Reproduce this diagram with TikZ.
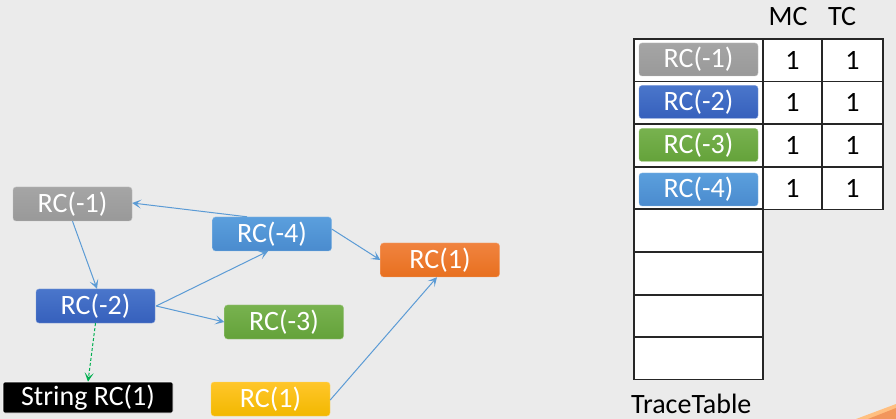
\documentclass[tikz,border=0pt]{standalone}
\usepackage{fontspec}
\setmainfont{Carlito}
\usetikzlibrary{arrows.meta}
\definecolor{bg}{HTML}{EBEBEB}
\definecolor{cgray}{HTML}{A5A5A5}
\definecolor{cgrayd}{HTML}{999999}
\definecolor{cblue}{HTML}{4A76CB}
\definecolor{cblued}{HTML}{3660BC}
\definecolor{clblue}{HTML}{5B9FDD}
\definecolor{clblued}{HTML}{4A8BCE}
\definecolor{corange}{HTML}{F0833F}
\definecolor{coranged}{HTML}{E8701F}
\definecolor{cgreen}{HTML}{78B24F}
\definecolor{cgreend}{HTML}{64A23A}
\definecolor{cyellow}{HTML}{FFC62A}
\definecolor{cyellowd}{HTML}{F2B800}
\definecolor{carrow}{HTML}{5B9BD5}
\definecolor{cdash}{HTML}{00B050}
\begin{document}
\begin{tikzpicture}[x=1pt,y=-1pt,
  rc/.style={rounded corners=3pt, minimum width=119pt, minimum height=34pt, inner sep=0pt,
    text=white, font=\fontsize{28}{28}\selectfont},
  gray/.style={rc, top color=cgray, bottom color=cgrayd, draw=cgray!70!white},
  blue/.style={rc, top color=cblue, bottom color=cblued, draw=cblue!70!white},
  lblue/.style={rc, top color=clblue, bottom color=clblued, draw=clblue!70!white},
  orange/.style={rc, top color=corange, bottom color=coranged, draw=corange!70!white},
  green/.style={rc, top color=cgreen, bottom color=cgreend, draw=cgreen!70!white},
  yellow/.style={rc, top color=cyellow, bottom color=cyellowd, draw=cyellow!70!white},
  conn/.style={draw=carrow, line width=1pt, -{Stealth[length=9pt,width=9pt,inset=4.5pt]}},
  cell/.style={draw=black!85, line width=1.2pt, fill=white},
  txt/.style={font=\fontsize{28}{28}\selectfont, text=black, inner sep=0pt},
]
\useasboundingbox (0,0) rectangle (896,419);
\fill[bg] (0,0) rectangle (896,419);
\fill[orange!50!white] (856,419) -- (896,404) -- (896,419) -- cycle;
\fill[corange!85!white] (868,419) -- (896,408) -- (896,419) -- cycle;

% graph nodes
\node[gray]   (n1) at (72.5,204) {RC(-1)};
\node[lblue]  (n4) at (272,234)  {RC(-4)};
\node[orange] (o1) at (440,260)  {RC(1)};
\node[blue]   (n2) at (95.5,306) {RC(-2)};
\node[green]  (n3) at (284,322)  {RC(-3)};
\node[rc, fill=black, draw=white, line width=0.6pt, minimum width=170pt, minimum height=31pt, rounded corners=2pt] (s1) at (88,397.5) {String RC(1)};
\node[yellow] (y1) at (270.5,399) {RC(1)};

\draw[conn] ([xshift=-25pt]n4.north) -- ([yshift=1pt]n1.east);
\draw[conn] ([xshift=0pt]n1.south) -- ([xshift=1.5pt]n2.north);
\draw[conn] ([xshift=1pt]n2.east) -- ([xshift=-4pt]n4.south);
\draw[conn] ([xshift=1pt]n2.east) -- (n3.west);
\draw[conn] ([yshift=5pt]n4.east) -- (o1.west);
\draw[conn] ([yshift=-1pt]y1.east) -- ([xshift=-3pt]o1.south);
\draw[draw=cdash, line width=1pt, dashed, dash pattern=on 3pt off 2pt, -{Stealth[length=9pt,width=9pt,inset=4.5pt]}] (n2.south) -- ([xshift=0pt]s1.north);

% trace table
\foreach \r [count=\i] in {39,81.5,124,167,209,252,295,337}{
  \pgfmathsetmacro{\rb}{\r+42.6}
  \draw[cell] (634,\r) rectangle (763,\rb);
}
\foreach \r in {39,81.5,124,167}{
  \pgfmathsetmacro{\rb}{\r+42.6}
  \draw[cell] (763,\r) rectangle (822,\rb);
  \draw[cell] (822,\r) rectangle (883,\rb);
  \node[txt] at (792.5,\r+21.3) {1};
  \node[txt] at (852.5,\r+21.3) {1};
}
\node[gray, minimum height=33pt]  (t1) at (698.5,59.5) {RC(-1)};
\node[blue, minimum height=33pt]  (t2) at (698.5,102)  {RC(-2)};
\node[green, minimum height=33pt] (t3) at (698.5,145)  {RC(-3)};
\node[lblue, minimum height=33pt] (t4) at (698.5,189.5) {RC(-4)};

\node[txt] (mc) at (788,17) {MC};
\node[txt] (tc) at (842,17) {TC};
\node[txt, anchor=west] (tt) at (631,404) {TraceTable};
\end{tikzpicture}
\end{document}
